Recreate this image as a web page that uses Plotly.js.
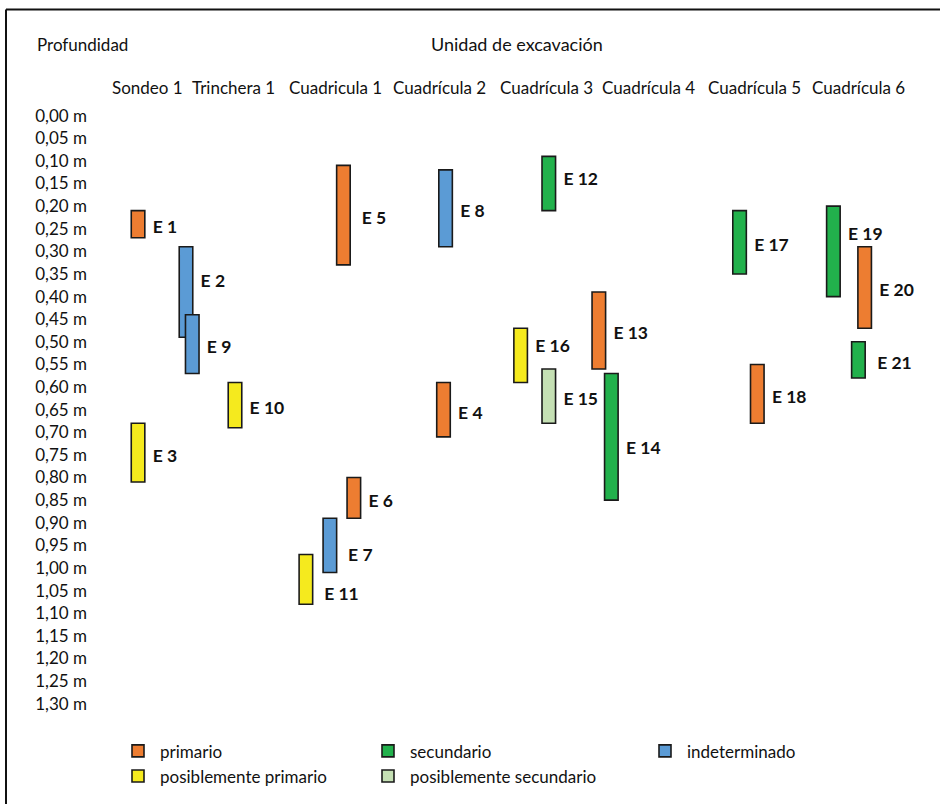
<!DOCTYPE html>
<html>
<head>
<meta charset="utf-8">
<script src="https://cdn.plot.ly/plotly-3.0.1.min.js"></script>
<style>html,body{margin:0;padding:0;background:#fff;}#chart{width:940px;height:804px;}</style>
</head>
<body>
<div id="chart"></div>
<script>
// Excavation units (column headers) and their horizontal position (column units)
const units = ["Sondeo 1","Trinchera 1","Cuadricula 1","Cuadrícula 2","Cuadrícula 3","Cuadrícula 4","Cuadrícula 5","Cuadrícula 6"];
const unitPos = [0.17, 1.0, 1.97, 2.97, 4.0, 4.98, 5.99, 6.99];

// Structures
const names  = ["E 1","E 2","E 3","E 4","E 5","E 6","E 7","E 8","E 9","E 10","E 11","E 12","E 13","E 14","E 15","E 16","E 17","E 18","E 19","E 20","E 21"];
const xPos   = [0.08,0.54,0.08,3.01,2.05,2.15,1.92,3.03,0.60,1.01,1.69,4.02,4.50,4.62,4.02,3.75,5.85,6.02,6.75,7.05,6.99];
const topD   = [0.21,0.29,0.68,0.59,0.11,0.80,0.89,0.12,0.44,0.59,0.97,0.09,0.39,0.57,0.56,0.47,0.21,0.55,0.20,0.29,0.50];
const botD   = [0.27,0.49,0.81,0.71,0.33,0.89,1.01,0.29,0.57,0.69,1.08,0.21,0.56,0.85,0.68,0.59,0.35,0.68,0.40,0.47,0.58];
const kind   = ["primario","indeterminado","posiblemente primario","primario","primario","primario","indeterminado","indeterminado","indeterminado","posiblemente primario","posiblemente primario","secundario","primario","secundario","posiblemente secundario","posiblemente primario","secundario","primario","secundario","primario","secundario"];

const depthTicks = [0,0.05,0.10,0.15,0.20,0.25,0.30,0.35,0.40,0.45,0.50,0.55,0.60,0.65,0.70,0.75,0.80,0.85,0.90,0.95,1.00,1.05,1.10,1.15,1.20,1.25,1.30];

// styling
const kinds = ["primario","secundario","indeterminado","posiblemente primario","posiblemente secundario"];
const colors = {"primario":"#ED7D31","secundario":"#22B14C","indeterminado":"#5B9BD5","posiblemente primario":"#F5EA1E","posiblemente secundario":"#C5E0B4"};
const legendOf = {"primario":"legend","posiblemente primario":"legend","secundario":"legend2","posiblemente secundario":"legend2","indeterminado":"legend3"};
const labelShift = {"E 2":-0.03,"E 19":-0.045,"E 16":-0.028,"E 11":0.025,"E 12":-0.017,"E 14":0.018,"E 7":0.015};
const labelGap = {"E 5":0.035,"E 7":0.035,"E 11":0.035,"E 21":0.04};
const LABEL_DROP = 0.01;
const FONT = "Lato, 'Open Sans', sans-serif";
const FS = 17;
const barW = 0.13;

// page geometry helpers (pixels -> paper fractions)
const M = {l: 88, r: 18, t: 93, b: 10};
const PW = 940 - M.l - M.r, PH = 804 - M.t - M.b;
const px2x = p => (p - M.l) / PW;
const px2y = p => (804 - M.b - p) / PH;

const traces = [];
kinds.forEach(k => {
  const idx = names.map((n,i)=>i).filter(i => kind[i] === k);
  traces.push({
    type: "bar",
    name: k,
    legend: legendOf[k],
    x: idx.map(i => xPos[i]),
    base: idx.map(i => topD[i]),
    y: idx.map(i => botD[i] - topD[i]),
    width: barW,
    marker: {color: colors[k], line: {color: "#1a1a1a", width: 1.6}},
    hoverinfo: "skip"
  });
});

traces.push({
  type: "scatter",
  mode: "text",
  showlegend: false,
  x: xPos.map((v,i) => v + barW/2 + 0.075 + (labelGap[names[i]] || 0)),
  y: names.map((n,i) => (topD[i] + botD[i]) / 2 + (labelShift[n] || 0) + LABEL_DROP),
  text: names,
  textposition: "middle right",
  textfont: {family: FONT, size: 17.5, color: "#111", weight: 700},
  cliponaxis: false,
  hoverinfo: "skip"
});

const fmt = v => v.toFixed(2).replace(".", ",") + " m";

const annotations = units.map((u,i) => ({
  x: unitPos[i], xref: "x", y: px2y(87.7), yref: "paper",
  text: u, showarrow: false, xanchor: "center", yanchor: "middle",
  font: {family: FONT, size: FS, color: "#111"}
}));
annotations.push({x: px2x(35), xref: "paper", y: px2y(44), yref: "paper", text: "Profundidad", showarrow: false,
  xanchor: "left", yanchor: "middle", font: {family: FONT, size: FS, color: "#111"}});
annotations.push({x: px2x(517), xref: "paper", y: px2y(44), yref: "paper", text: "Unidad de excavación", showarrow: false,
  xanchor: "center", yanchor: "middle", font: {family: FONT, size: 18, color: "#111"}});

const legendBase = {
  orientation: "v", xanchor: "left", yanchor: "top",
  font: {family: FONT, size: FS, color: "#111"},
  bgcolor: "rgba(0,0,0,0)", tracegroupgap: 0, itemclick: false, itemdoubleclick: false,
  itemwidth: 34
};
const legY = px2y(737);

const layout = {
  width: 940, height: 804,
  margin: M,
  paper_bgcolor: "#fff", plot_bgcolor: "#fff",
  barmode: "overlay",
  showlegend: true,
  xaxis: {range: [-0.4, 7.6], showgrid: false, zeroline: false, showticklabels: false, ticks: "", showline: false, fixedrange: true},
  yaxis: {range: [1.35, -0.05], domain: [px2y(730), 1], showgrid: false, zeroline: false, showline: false, ticks: "",
    tickvals: depthTicks, ticktext: depthTicks.map(fmt), tickfont: {family: FONT, size: FS, color: "#111"}, fixedrange: true},
  legend: Object.assign({}, legendBase, {x: px2x(116), y: legY}),
  legend2: Object.assign({}, legendBase, {x: px2x(366), y: legY}),
  legend3: Object.assign({}, legendBase, {x: px2x(643), y: legY}),
  annotations: annotations,
  shapes: [
    {type: "line", xref: "paper", yref: "paper", x0: px2x(6), x1: 1.2, y0: px2y(9), y1: px2y(9), line: {color: "#111", width: 2}},
    {type: "line", xref: "paper", yref: "paper", x0: px2x(6), x1: px2x(6), y0: px2y(9), y1: -0.2, line: {color: "#111", width: 2}}
  ]
};

Plotly.newPlot("chart", traces, layout, {displayModeBar: false, staticPlot: true});
</script>
</body>
</html>
